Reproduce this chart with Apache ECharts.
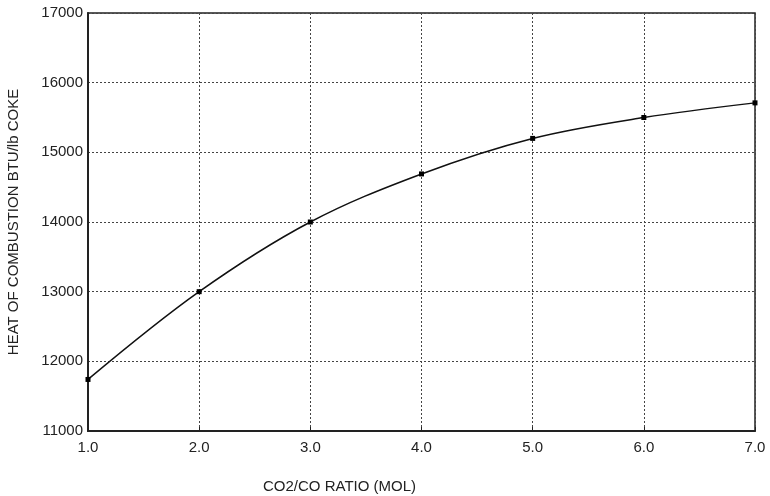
<!DOCTYPE html>
<html>
<head>
<meta charset="utf-8">
<script src="https://cdn.jsdelivr.net/npm/echarts@6/dist/echarts.min.js"></script>
<style>html,body{margin:0;padding:0;background:#fff;}#c{width:770px;height:496px;}</style>
</head>
<body>
<div id="c"></div>
<script>
var ratios = [1, 2, 3, 4, 5, 6, 7];
var heatValues = [11740, 13000, 14000, 14690, 15200, 15500, 15710];
var xTitle = "CO2/CO RATIO (MOL)";
var yTitle = "HEAT OF COMBUSTION BTU/lb COKE";

var chart = echarts.init(document.getElementById('c'), null, {renderer: 'canvas'});
var font = 'Liberation Sans, Arial, sans-serif';
chart.setOption({
  animation: false,
  backgroundColor: '#fff',
  grid: {left: 88, right: 15, top: 13, bottom: 65, containLabel: false, outerBoundsMode: 'none',
         show: true, borderColor: '#222', borderWidth: 1.5, backgroundColor: 'transparent'},
  xAxis: {
    type: 'value', min: 1, max: 7, interval: 1,
    axisLine: {show: true, lineStyle: {color: '#222', width: 2}},
    axisTick: {show: true, inside: true, length: 4, lineStyle: {color: '#222'}},
    axisLabel: {color: '#222', fontSize: 15, fontFamily: font, margin: 9, formatter: function(v){return v.toFixed(1);}},
    splitLine: {show: true, lineStyle: {color: '#444', type: [2, 2], width: 1}}
  },
  yAxis: {
    type: 'value', min: 11000, max: 17000, interval: 1000,
    name: yTitle, nameLocation: 'middle', nameGap: 67,
    nameTextStyle: {color: '#222', fontSize: 15, fontFamily: font},
    axisLine: {show: true, lineStyle: {color: '#222', width: 2}},
    axisTick: {show: false},
    axisLabel: {color: '#222', fontSize: 15, fontFamily: font, margin: 5, formatter: function(v){return String(v);}},
    splitLine: {show: true, lineStyle: {color: '#444', type: [2, 2], width: 1}}
  },
  graphic: [{
    type: 'text', left: 263, top: 479,
    style: {text: xTitle, fill: '#222', font: '15px ' + font}
  }],
  series: [{
    type: 'line',
    data: ratios.map(function(x, i){return [x, heatValues[i]];}),
    smooth: 0.35,
    symbol: 'rect', symbolSize: 5,
    itemStyle: {color: '#000'},
    lineStyle: {color: '#111', width: 1.5}
  }]
});
</script>
</body>
</html>
